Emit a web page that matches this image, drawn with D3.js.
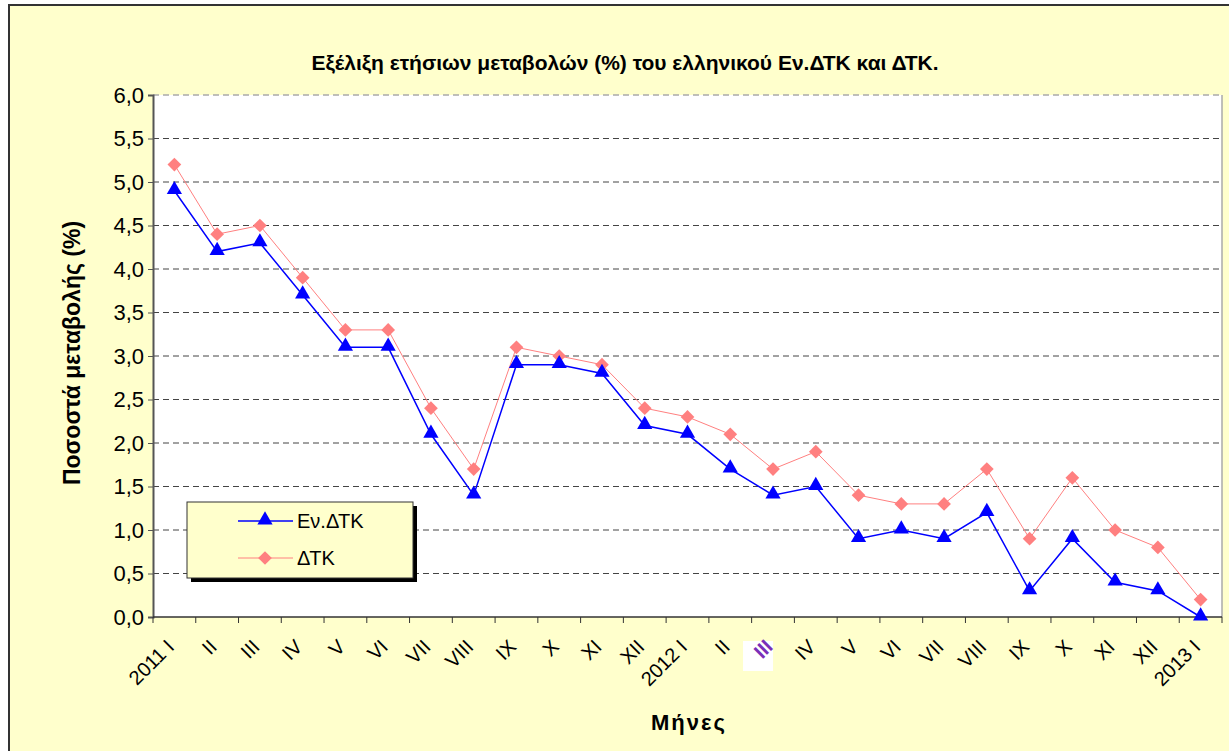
<!DOCTYPE html>
<html>
<head>
<meta charset="utf-8">
<script src="https://d3js.org/d3.v7.min.js"></script>
<style>
  html, body { margin: 0; padding: 0; background: #fff; }
  svg { display: block; font-family: "Liberation Sans", Arial, sans-serif; }
</style>
</head>
<body>
<svg id="chart" width="1229" height="751"></svg>
<script>
// Categories (months)
const months = ['2011 I', 'II', 'III', 'IV', 'V', 'VI', 'VII', 'VIII', 'IX', 'X', 'XI', 'XII',
                '2012 I', 'II', 'III', 'IV', 'V', 'VI', 'VII', 'VIII', 'IX', 'X', 'XI', 'XII',
                '2013 I'];

// Series values (%)
const hicp = [4.9, 4.2, 4.3, 3.7, 3.1, 3.1, 2.1, 1.4, 2.9, 2.9, 2.8, 2.2,
              2.1, 1.7, 1.4, 1.5, 0.9, 1.0, 0.9, 1.2, 0.3, 0.9, 0.4, 0.3, 0.0];
const cpi  = [5.2, 4.4, 4.5, 3.9, 3.3, 3.3, 2.4, 1.7, 3.1, 3.0, 2.9, 2.4,
              2.3, 2.1, 1.7, 1.9, 1.4, 1.3, 1.3, 1.7, 0.9, 1.6, 1.0, 0.8, 0.2];

const yTicks = [0, 0.5, 1, 1.5, 2, 2.5, 3, 3.5, 4, 4.5, 5, 5.5, 6];

const seriesNames = ['Εν.ΔΤΚ', 'ΔΤΚ'];

const W = 1229, H = 751;
const plot = { left: 153, top: 95, right: 1222, bottom: 617 };

const svg = d3.select('#chart');

// Chart background and frame
svg.append('rect').attr('x', 0).attr('y', 0).attr('width', W).attr('height', H).attr('fill', '#fff');
svg.append('rect').attr('x', 9).attr('y', 5).attr('width', W + 10).attr('height', H)
    .attr('fill', '#FFFFCC').attr('stroke', '#333').attr('stroke-width', 2);

const x = d3.scaleBand().domain(d3.range(months.length)).range([plot.left, plot.right]);
const y = d3.scaleLinear().domain([0, 6]).range([plot.bottom, plot.top]);

// Plot area
svg.append('rect')
    .attr('x', plot.left).attr('y', plot.top)
    .attr('width', plot.right - plot.left).attr('height', plot.bottom - plot.top)
    .attr('fill', '#fff');

// Gridlines
svg.append('g')
    .selectAll('line')
    .data(yTicks.filter(d => d > 0))
    .join('line')
    .attr('x1', plot.left).attr('x2', plot.right)
    .attr('y1', d => y(d)).attr('y2', d => y(d))
    .attr('stroke', d => d === 6 ? '#aaa' : '#444')
    .attr('stroke-width', d => d === 6 ? 1.5 : 1)
    .attr('stroke-dasharray', '6,4');

// Right border
svg.append('line')
    .attr('x1', plot.right).attr('x2', plot.right)
    .attr('y1', plot.top).attr('y2', plot.bottom)
    .attr('stroke', '#aaa').attr('stroke-width', 1.5);

// Y axis
const yAxis = svg.append('g')
    .attr('transform', `translate(${plot.left},0)`)
    .call(d3.axisLeft(y).tickValues(yTicks).tickSize(5).tickPadding(4)
        .tickFormat(d => d3.format('.1f')(d).replace('.', ',')));
yAxis.select('.domain').attr('stroke', '#555').attr('stroke-width', 2);
yAxis.selectAll('.tick line').attr('stroke', '#555');
yAxis.selectAll('.tick text').attr('font-size', 22).attr('fill', '#000')
    .attr('font-family', '"Liberation Sans", Arial, sans-serif');

const cx = i => x(i) + x.bandwidth() / 2;
const oddIdx = 14;

// X axis with ticks at category boundaries
const xAxisG = svg.append('g');
xAxisG.append('line')
    .attr('x1', plot.left).attr('x2', plot.right)
    .attr('y1', plot.bottom).attr('y2', plot.bottom)
    .attr('stroke', '#333').attr('stroke-width', 1.5);
xAxisG.selectAll('line.tk')
    .data(d3.range(months.length + 1))
    .join('line')
    .attr('class', 'tk')
    .attr('x1', i => plot.left + i * x.step()).attr('x2', i => plot.left + i * x.step())
    .attr('y1', plot.bottom).attr('y2', plot.bottom + 6)
    .attr('stroke', '#333').attr('stroke-width', 1);

// White box behind the 2012 III label
xAxisG.append('rect')
    .attr('x', cx(oddIdx) - 30).attr('y', plot.bottom + 24)
    .attr('width', 30).attr('height', 30)
    .attr('fill', '#fff');

xAxisG.selectAll('text')
    .data(months)
    .join('text')
    .attr('transform', (d, i) => `translate(${cx(i) - 4},${plot.bottom + 26}) rotate(-45)`)
    .attr('text-anchor', 'end')
    .attr('dy', '0.35em')
    .attr('font-size', 20)
    .attr('font-weight', (d, i) => i === oddIdx ? 'bold' : null)
    .attr('fill', (d, i) => i === oddIdx ? '#7a2fb8' : '#000')
    .text(d => d);

// Lines
const line = d3.line().x((d, i) => cx(i)).y(d => y(d));

svg.append('path').datum(cpi)
    .attr('d', line).attr('fill', 'none')
    .attr('stroke', '#FF8080').attr('stroke-width', 1);
svg.append('path').datum(hicp)
    .attr('d', line).attr('fill', 'none')
    .attr('stroke', '#0000FF').attr('stroke-width', 1.5);

const diamond = d3.symbol().type(d3.symbolDiamond2).size(120);
const triangle = d3.symbol().type(d3.symbolTriangle).size(100);

svg.append('g').selectAll('path')
    .data(cpi)
    .join('path')
    .attr('d', diamond)
    .attr('transform', (d, i) => `translate(${cx(i)},${y(d)})`)
    .attr('fill', '#FF8080');

svg.append('g').selectAll('path')
    .data(hicp)
    .join('path')
    .attr('d', triangle)
    .attr('transform', (d, i) => `translate(${cx(i)},${y(d) - 1})`)
    .attr('fill', '#0000FF');

// Title
svg.append('text')
    .attr('x', 625).attr('y', 70)
    .attr('text-anchor', 'middle')
    .attr('font-size', 21).attr('font-weight', 'bold')
    .text('Εξέλιξη ετήσιων μεταβολών (%) του ελληνικού Εν.ΔΤΚ και ΔΤΚ.');

// Y label
svg.append('text')
    .attr('transform', `translate(80,353) rotate(-90)`)
    .attr('text-anchor', 'middle')
    .attr('font-size', 23).attr('font-weight', 'bold')
    .text('Ποσοστά μεταβολής (%)');

// X label
svg.append('text')
    .attr('x', 689).attr('y', 730)
    .attr('text-anchor', 'middle')
    .attr('font-size', 22).attr('font-weight', 'bold')
    .attr('letter-spacing', 2)
    .text('Μήνες');

// Legend
const lg = svg.append('g').attr('transform', 'translate(187,502)');
lg.append('rect').attr('x', 4).attr('y', 4).attr('width', 226).attr('height', 76).attr('fill', '#000');
lg.append('rect').attr('x', 0).attr('y', 0).attr('width', 226).attr('height', 76)
    .attr('fill', '#FFFFCC').attr('stroke', '#333').attr('stroke-width', 1);

const legendRows = [
    { name: seriesNames[0], color: '#0000FF', sym: triangle, w: 1.5, dy: -1 },
    { name: seriesNames[1], color: '#FF8080', sym: diamond, w: 1, dy: 0 }
];
legendRows.forEach((r, k) => {
    const ry = 19 + k * 37;
    lg.append('line').attr('x1', 51).attr('x2', 106).attr('y1', ry).attr('y2', ry)
        .attr('stroke', r.color).attr('stroke-width', r.w);
    lg.append('path').attr('d', r.sym).attr('transform', `translate(78,${ry + r.dy})`)
        .attr('fill', r.color);
    lg.append('text').attr('x', 110).attr('y', ry).attr('dy', '0.35em')
        .attr('font-size', 20).text(r.name);
});
</script>
</body>
</html>
